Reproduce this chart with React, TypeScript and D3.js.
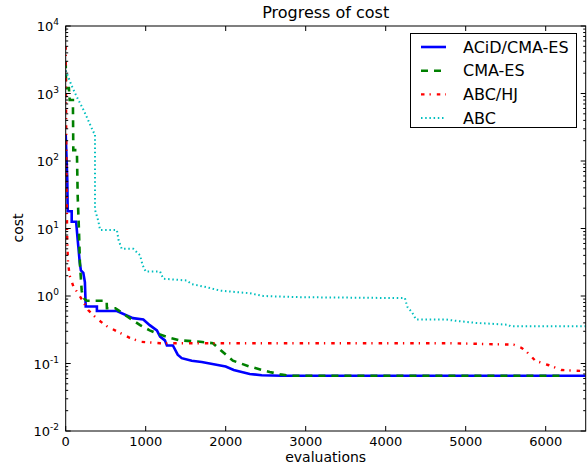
import React from 'react';
import * as d3 from 'd3';

const width = 587;
const height = 468;
const plot = {left: 65.7, right: 585.7, top: 26, bottom: 431};
const font = 'DejaVu Sans, sans-serif';

// [evaluations, cost]
const acidCmaEs = [
    [0, 250], [20, 52], [25, 18], [75, 18], [75, 12.6], [130, 12.6], [150, 6.8], [175, 3.2],
    [190, 2.4], [220, 2.2], [240, 1.6], [250, 0.7], [390, 0.7], [390, 0.6], [640, 0.6],
    [840, 0.47], [970, 0.45], [1050, 0.37], [1140, 0.31], [1180, 0.25], [1240, 0.22],
    [1265, 0.185], [1340, 0.185], [1400, 0.135], [1450, 0.12], [1575, 0.11], [1700, 0.105],
    [1900, 0.095], [2000, 0.09], [2100, 0.08], [2200, 0.075], [2300, 0.07], [2450, 0.067],
    [2700, 0.066], [6500, 0.066],
];
const cmaEs = [
    [0, 3000], [5, 1200], [40, 1200], [50, 800], [90, 800], [95, 145], [140, 145], [150, 30],
    [165, 10], [178, 3], [200, 1.2], [215, 0.95], [262, 0.85], [512, 0.85], [515, 0.66],
    [620, 0.66], [800, 0.47], [930, 0.37], [1050, 0.31], [1140, 0.28], [1300, 0.24],
    [1430, 0.22], [1680, 0.21], [1840, 0.2], [1930, 0.16], [2090, 0.11], [2300, 0.09],
    [2550, 0.075], [2680, 0.069], [2800, 0.066], [6200, 0.066],
];
const abcHj = [
    [0, 5000], [10, 50], [20, 6], [30, 3], [50, 2], [95, 1.4], [180, 0.98], [280, 0.62],
    [390, 0.46], [510, 0.36], [640, 0.3], [800, 0.24], [930, 0.21], [1180, 0.2], [4800, 0.2],
    [5600, 0.19], [5700, 0.17], [5760, 0.15], [5870, 0.11], [6030, 0.095], [6200, 0.08],
    [6500, 0.077],
];
const abc = [
    [0, 2200], [75, 1300], [137, 900], [220, 580], [282, 400], [345, 270], [366, 260],
    [366, 19], [407, 13], [430, 9.5], [640, 9.5], [660, 6.8], [700, 5.0], [845, 5.0],
    [930, 4.0], [960, 2.9], [1000, 2.3], [1180, 2.3], [1220, 1.8], [1510, 1.7], [1575, 1.5],
    [1760, 1.35], [1930, 1.2], [2300, 1.1], [2470, 1.0], [2930, 0.96], [3800, 0.94],
    [4240, 0.93], [4270, 0.69], [4330, 0.57], [4380, 0.45], [4740, 0.45], [4870, 0.43],
    [5120, 0.4], [5530, 0.375], [5560, 0.357], [6500, 0.357],
];

const seriesNames = ['ACiD/CMA-ES', 'CMA-ES', 'ABC/HJ', 'ABC'];
const seriesData = [acidCmaEs, cmaEs, abcHj, abc];
const seriesStyle = [
    {color: '#0000ff', width: 2.6, dash: null},
    {color: '#008000', width: 2.6, dash: '7,6'},
    {color: '#ff0000', width: 2.4, dash: '3.5,5,1.3,6'},
    {color: '#00bfbf', width: 2, dash: '1.5,2.7'},
];
const xTicks = [0, 1000, 2000, 3000, 4000, 5000, 6000];
const yExponents = [-2, -1, 0, 1, 2, 3, 4];

const xScale = d3.scaleLinear().domain([0, 6500]).range([plot.left, plot.right]);
const yScale = d3.scaleLog().domain([0.01, 10000]).range([plot.bottom, plot.top]);
const line = d3.line<number[]>().x(d => xScale(d[0])).y(d => yScale(d[1]));

export default function App() {
    const minor: number[] = [];
    for (let e = -2; e < 4; e++) {
        for (let k = 2; k <= 9; k++) minor.push(k * Math.pow(10, e));
    }
    return (
        <svg width={width} height={height} style={{position: 'absolute', left: 0, top: 0}}
             fontFamily={font}>
            <rect width={width} height={height} fill='white'/>
            <defs>
                <clipPath id='plotClip'>
                    <rect x={plot.left} y={plot.top} width={plot.right - plot.left}
                          height={plot.bottom - plot.top}/>
                </clipPath>
            </defs>
            <g clipPath='url(#plotClip)'>
                {seriesData.map((d, i) => (
                    <path key={i} d={line(d) || ''} fill='none' stroke={seriesStyle[i].color}
                          strokeWidth={seriesStyle[i].width}
                          strokeDasharray={seriesStyle[i].dash || undefined}/>
                ))}
            </g>
            {/* ticks, inward on all sides */}
            <g stroke='black' strokeWidth={1}>
                {xTicks.map(t => (
                    <g key={t}>
                        <line x1={xScale(t)} x2={xScale(t)} y1={plot.bottom} y2={plot.bottom - 5}/>
                        <line x1={xScale(t)} x2={xScale(t)} y1={plot.top} y2={plot.top + 5}/>
                    </g>
                ))}
                {yExponents.map(e => (
                    <g key={e}>
                        <line x1={plot.left} x2={plot.left + 5} y1={yScale(Math.pow(10, e))} y2={yScale(Math.pow(10, e))}/>
                        <line x1={plot.right} x2={plot.right - 5} y1={yScale(Math.pow(10, e))} y2={yScale(Math.pow(10, e))}/>
                    </g>
                ))}
                {minor.map((v, i) => (
                    <g key={i}>
                        <line x1={plot.left} x2={plot.left + 2.5} y1={yScale(v)} y2={yScale(v)}/>
                        <line x1={plot.right} x2={plot.right - 2.5} y1={yScale(v)} y2={yScale(v)}/>
                    </g>
                ))}
            </g>
            <rect x={plot.left} y={plot.top} width={plot.right - plot.left}
                  height={plot.bottom - plot.top} fill='none' stroke='black' strokeWidth={1}/>
            {/* tick labels */}
            {xTicks.map(t => (
                <text key={t} x={xScale(t)} y={446} fontSize={13} textAnchor='middle'>{t}</text>
            ))}
            {yExponents.map(e => (
                <text key={e} x={59} y={yScale(Math.pow(10, e)) + 5} fontSize={13} textAnchor='end'>
                    10<tspan fontSize={9} dy={-6}>{e}</tspan>
                </text>
            ))}
            <text x={(plot.left + plot.right) / 2} y={18} fontSize={16} textAnchor='middle'>Progress of cost</text>
            <text x={(plot.left + plot.right) / 2} y={462} fontSize={14} textAnchor='middle'>evaluations</text>
            <text transform='translate(23,228) rotate(-90)' fontSize={14} textAnchor='middle'>cost</text>
            {/* legend */}
            <g>
                <rect x={410.5} y={33.5} width={166} height={94} fill='white' stroke='black' strokeWidth={1}/>
                {seriesNames.map((name, i) => (
                    <g key={name} transform={`translate(0, ${47 + i * 23.7})`}>
                        <line x1={421} x2={446} y1={0} y2={0} stroke={seriesStyle[i].color}
                              strokeWidth={seriesStyle[i].width}
                              strokeDasharray={seriesStyle[i].dash || undefined}/>
                        <text x={463} y={5.5} fontSize={16}>{name}</text>
                    </g>
                ))}
            </g>
        </svg>
    );
}
